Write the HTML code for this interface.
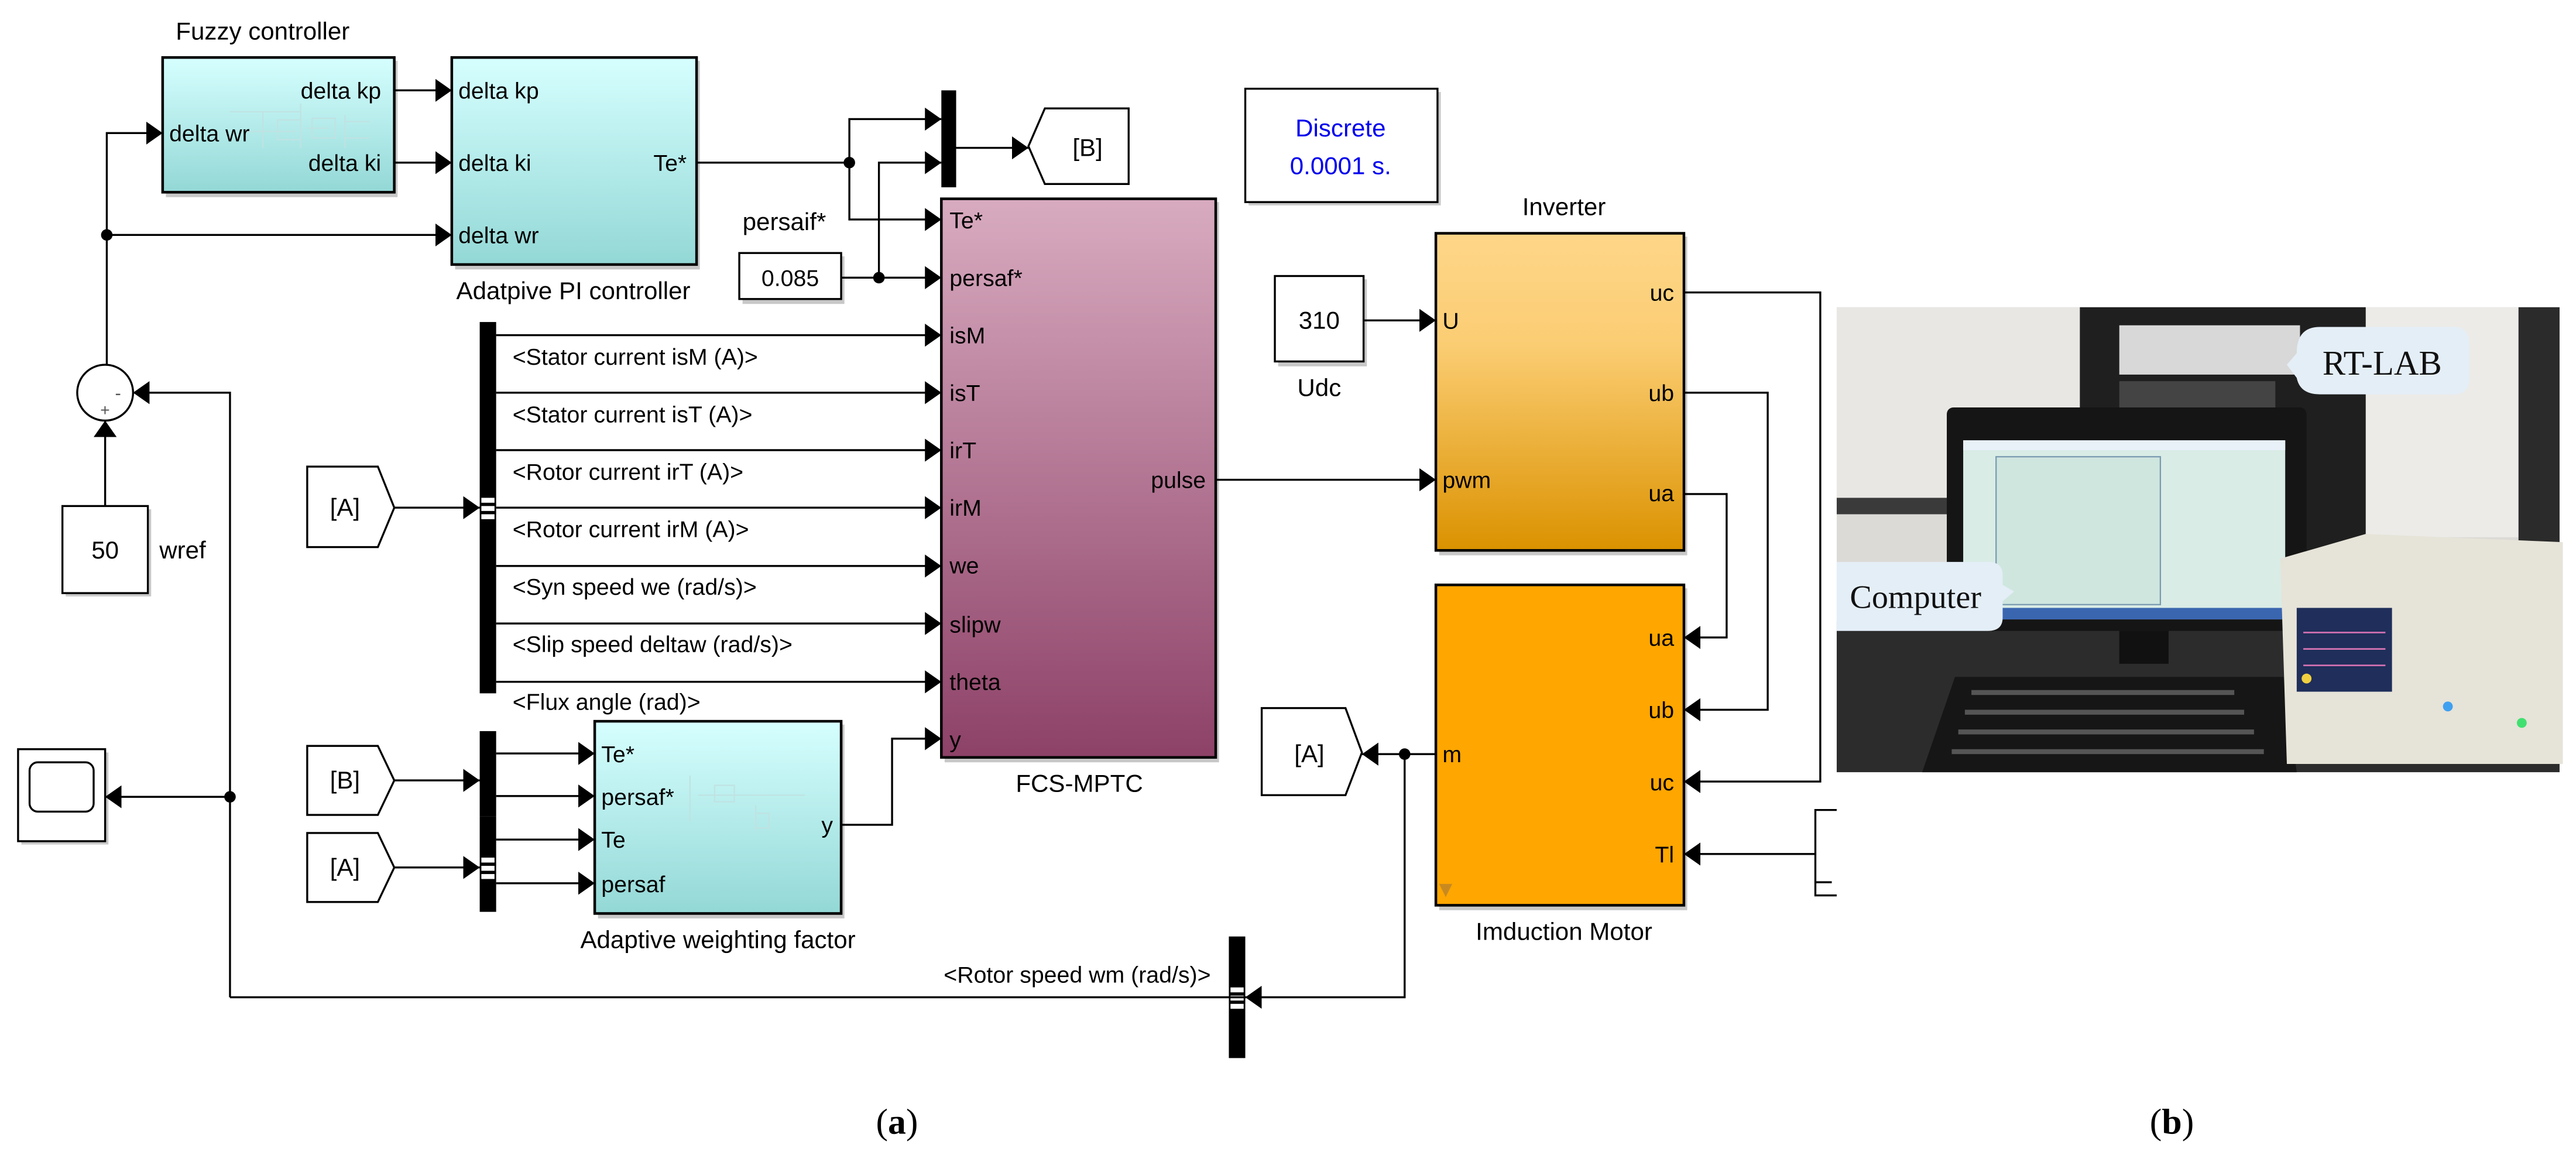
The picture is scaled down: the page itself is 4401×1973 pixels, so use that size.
<!DOCTYPE html>
<html><head><meta charset="utf-8"><style>html,body{margin:0;padding:0;background:#fff}svg{display:block}</style></head>
<body>
<svg width="4401" height="1973" viewBox="0 0 1568 703" preserveAspectRatio="none" xmlns="http://www.w3.org/2000/svg" font-family="Liberation Sans, sans-serif" font-size="14">
<defs>
<linearGradient id="cy" x1="0" y1="0" x2="0" y2="1"><stop offset="0" stop-color="#d6ffff"/><stop offset="1" stop-color="#93d8d6"/></linearGradient>
<linearGradient id="pk" x1="0" y1="0" x2="0" y2="1"><stop offset="0" stop-color="#d8abc0"/><stop offset="1" stop-color="#8d4167"/></linearGradient>
<linearGradient id="og" x1="0" y1="0" x2="0" y2="1"><stop offset="0" stop-color="#fed689"/><stop offset="0.35" stop-color="#fbcd73"/><stop offset="1" stop-color="#db9200"/></linearGradient>
<marker id="a" markerWidth="12" markerHeight="14" refX="10" refY="7" orient="auto" markerUnits="userSpaceOnUse"><path d="M0,0 L10,7 L0,14 Z" fill="#000"/></marker>
</defs>
<g fill="none" stroke="#000" stroke-width="1.2">
<g fill="#c8c8c8" stroke="none">
<rect x="101" y="37" width="141" height="83"/><rect x="277" y="37" width="149" height="127"/>
<rect x="575" y="123" width="167" height="341"/><rect x="364" y="441" width="150" height="118"/>
<rect x="876" y="144" width="151" height="194"/><rect x="876" y="358" width="151" height="196"/>
<rect x="452" y="156" width="62" height="29"/><rect x="760" y="56" width="117" height="69"/>
<rect x="778" y="170" width="54" height="53"/><rect x="40" y="310" width="52" height="53"/><rect x="13" y="458" width="53" height="56"/>
</g>
<rect x="99" y="35" width="141" height="82" fill="url(#cy)" stroke-width="1.6"/>
<rect x="275" y="35" width="149" height="126" fill="url(#cy)" stroke-width="1.6"/>
<rect x="573" y="121" width="167" height="340" fill="url(#pk)" stroke-width="1.6"/>
<rect x="362" y="439" width="150" height="117" fill="url(#cy)" stroke-width="1.6"/>
<rect x="874" y="142" width="151" height="193" fill="url(#og)" stroke-width="1.6"/>
<rect x="874" y="356" width="151" height="195" fill="#ffa600" stroke-width="1.6"/>
<rect x="450" y="154" width="62" height="28" fill="#fff"/>
<rect x="758" y="54" width="117" height="69" fill="#fff"/>
<rect x="776" y="168" width="54" height="52" fill="#fff"/>
<rect x="38" y="308" width="52" height="53" fill="#fff"/>
<rect x="11" y="456" width="53" height="56" fill="#fff"/>
<rect x="18" y="464" width="39" height="30" rx="5" fill="#fff"/>
<circle cx="64" cy="239" r="17" fill="#fff"/>
<path d="M187,284 L230,284 L240,309 L230,333 L187,333 Z" fill="#fff"/>
<path d="M187,454 L230,454 L240,475 L230,496 L187,496 Z" fill="#fff"/>
<path d="M187,507 L230,507 L240,528 L230,549 L187,549 Z" fill="#fff"/>
<path d="M687,66 L636,66 L626,89 L636,112 L687,112 Z" fill="#fff"/>
<path d="M768,431 L819,431 L829,458 L819,484 L768,484 Z" fill="#fff"/>
<path d="M1118,493 L1105,493 L1105,545 L1118,545 M1105,537 L1115,537"/>
<g fill="#000" stroke="none">
<rect x="292" y="196" width="10" height="226"/><rect x="292" y="445" width="10" height="52"/><rect x="292" y="497" width="10" height="58"/>
<rect x="573" y="55" width="9" height="59"/><rect x="748" y="570" width="10" height="74"/>
</g>
<g fill="#fff" stroke="none"><rect x="293" y="303" width="8" height="3"/><rect x="293" y="308" width="8" height="3"/><rect x="293" y="313" width="8" height="3"/>
<rect x="293" y="522" width="8" height="3"/><rect x="293" y="527" width="8" height="3"/><rect x="293" y="532" width="8" height="3"/>
<rect x="749" y="601" width="8" height="3"/><rect x="749" y="606" width="8" height="3"/><rect x="749" y="611" width="8" height="3"/></g>
<path d="M240,55 H275" marker-end="url(#a)"/>
<path d="M240,99 H275" marker-end="url(#a)"/>
<path d="M65,222 V81 H99" marker-end="url(#a)"/>
<path d="M65,143 H275" marker-end="url(#a)"/>
<path d="M64,308 V256" marker-end="url(#a)"/>
<path d="M140,607 V239 H81" marker-end="url(#a)"/>
<path d="M140,485 H64" marker-end="url(#a)"/>
<path d="M758,607 H140"/>
<path d="M874,459 H855 V607 H758" marker-end="url(#a)"/>
<path d="M855,459 H829" marker-end="url(#a)"/>
<path d="M424,99 H517 V72.5 H573" marker-end="url(#a)"/>
<path d="M517,99 V133.6 H573" marker-end="url(#a)"/>
<path d="M512,169 H573" marker-end="url(#a)"/>
<path d="M535,169 V99 H573" marker-end="url(#a)"/>
<path d="M582,90 H626" marker-end="url(#a)"/>
<path d="M240,309 H292" marker-end="url(#a)"/>
<path d="M302,204 H573" marker-end="url(#a)"/>
<path d="M302,239 H573" marker-end="url(#a)"/>
<path d="M302,274 H573" marker-end="url(#a)"/>
<path d="M302,309 H573" marker-end="url(#a)"/>
<path d="M302,344.5 H573" marker-end="url(#a)"/>
<path d="M302,379.5 H573" marker-end="url(#a)"/>
<path d="M302,415 H573" marker-end="url(#a)"/>
<path d="M240,475 H292" marker-end="url(#a)"/>
<path d="M240,528 H292" marker-end="url(#a)"/>
<path d="M302,458.6 H362" marker-end="url(#a)"/>
<path d="M302,484.5 H362" marker-end="url(#a)"/>
<path d="M302,511 H362" marker-end="url(#a)"/>
<path d="M302,537.6 H362" marker-end="url(#a)"/>
<path d="M512,502 H543 V449.6 H573" marker-end="url(#a)"/>
<path d="M740,292 H874" marker-end="url(#a)"/>
<path d="M830,195 H874" marker-end="url(#a)"/>
<path d="M1025,178 H1108 V475.7 H1025" marker-end="url(#a)"/>
<path d="M1025,239 H1076 V432 H1025" marker-end="url(#a)"/>
<path d="M1025,300.7 H1051 V388 H1025" marker-end="url(#a)"/>
<path d="M1105,519.8 H1025" marker-end="url(#a)"/>
</g>
<g fill="#000"><circle cx="65" cy="143" r="3.5"/><circle cx="140" cy="485" r="3.5"/><circle cx="855" cy="459" r="3.5"/><circle cx="517" cy="99" r="3.5"/><circle cx="535" cy="169" r="3.5"/></g>
<g stroke="#c0e2e2" fill="none" stroke-width="0.8">
<path d="M140,68 H183 M160,68 V90 M148,80 H180 M183,63 V90 M187,78 H200 M210,70 V90 M210,74 H225 M210,84 H225"/><rect x="169" y="73" width="14" height="12"/><rect x="190" y="72" width="14" height="12"/>
<path d="M420,472 V500 M425,484 H470 M470,484 H490 M460,490 V505"/><rect x="435" y="478" width="12" height="10"/><rect x="460" y="495" width="8" height="9"/>
</g>
<g fill="#000">
<text x="107" y="24" font-size="15">Fuzzy controller</text>
<text x="232" y="60" text-anchor="end">delta kp</text>
<text x="232" y="104" text-anchor="end">delta ki</text>
<text x="103" y="86">delta wr</text>
<text x="279" y="60">delta kp</text>
<text x="279" y="104">delta ki</text>
<text x="279" y="148">delta wr</text>
<text x="418" y="104" text-anchor="end">Te*</text>
<text x="349" y="182" text-anchor="middle" font-size="15">Adatpive PI controller</text>
<text x="452" y="140" font-size="15">persaif*</text>
<text x="481" y="174" text-anchor="middle">0.085</text>
<text x="578" y="139">Te*</text>
<text x="578" y="174">persaf*</text>
<text x="578" y="209">isM</text><text x="578" y="244">isT</text><text x="578" y="279">irT</text><text x="578" y="314">irM</text>
<text x="578" y="349">we</text><text x="578" y="385">slipw</text><text x="578" y="420">theta</text><text x="578" y="455">y</text>
<text x="734" y="297" text-anchor="end">pulse</text>
<text x="657" y="482" text-anchor="middle" font-size="15">FCS-MPTC</text>
<text x="312" y="222">&lt;Stator current isM (A)&gt;</text>
<text x="312" y="257">&lt;Stator current isT (A)&gt;</text>
<text x="312" y="292">&lt;Rotor current irT (A)&gt;</text>
<text x="312" y="327">&lt;Rotor current  irM (A)&gt;</text>
<text x="312" y="362">&lt;Syn speed we (rad/s)&gt;</text>
<text x="312" y="397">&lt;Slip speed deltaw (rad/s)&gt;</text>
<text x="312" y="432">&lt;Flux angle (rad)&gt;</text>
<text x="210" y="314" text-anchor="middle" font-size="15">[A]</text>
<text x="210" y="480" text-anchor="middle" font-size="15">[B]</text>
<text x="210" y="533" text-anchor="middle" font-size="15">[A]</text>
<text x="662" y="95" text-anchor="middle" font-size="15">[B]</text>
<text x="797" y="464" text-anchor="middle" font-size="15">[A]</text>
<text x="366" y="464">Te*</text><text x="366" y="490">persaf*</text><text x="366" y="516">Te</text><text x="366" y="543">persaf</text>
<text x="507" y="507" text-anchor="end">y</text>
<text x="437" y="577" text-anchor="middle" font-size="15">Adaptive weighting factor</text>
<text x="737" y="598" text-anchor="end">&lt;Rotor speed wm (rad/s)&gt;</text>
<text x="64" y="340" text-anchor="middle" font-size="15">50</text>
<text x="97" y="340" font-size="15">wref</text>
<text x="70" y="243" font-size="11" fill="#555">-</text><text x="61" y="253" font-size="10" fill="#555">+</text>
<text x="816" y="83" text-anchor="middle" font-size="15" fill="#0000ee">Discrete</text>
<text x="816" y="106" text-anchor="middle" font-size="15" fill="#0000ee">0.0001 s.</text>
<text x="952" y="131" text-anchor="middle" font-size="15">Inverter</text>
<text x="803" y="200" text-anchor="middle" font-size="15">310</text>
<text x="803" y="241" text-anchor="middle" font-size="15">Udc</text>
<text x="878" y="200">U</text><text x="878" y="297">pwm</text>
<text x="1019" y="183" text-anchor="end">uc</text><text x="1019" y="244" text-anchor="end">ub</text><text x="1019" y="305" text-anchor="end">ua</text>
<text x="1019" y="393" text-anchor="end">ua</text><text x="1019" y="437" text-anchor="end">ub</text><text x="1019" y="481" text-anchor="end">uc</text><text x="1019" y="525" text-anchor="end">Tl</text>
<text x="878" y="464">m</text>
<text x="952" y="572" text-anchor="middle" font-size="15">Imduction Motor</text>
<text x="546" y="690" text-anchor="middle" font-size="22" font-family="Liberation Serif, serif">(<tspan font-weight="bold">a</tspan>)</text>
<text x="1322" y="690" text-anchor="middle" font-size="22" font-family="Liberation Serif, serif">(<tspan font-weight="bold">b</tspan>)</text>
</g>
<path d="M876,538 L880,546 L884,538 Z" fill="#c88a20"/>
<g>
<rect x="1118" y="187" width="440" height="283" fill="#dcdad6"/>
<rect x="1118" y="187" width="150" height="120" fill="#e9e7e3"/>
<rect x="1118" y="303" width="150" height="10" fill="#3a3a3a"/>
<rect x="1440" y="187" width="118" height="140" fill="#ecebe8"/>
<rect x="1266" y="187" width="174" height="150" fill="#1f1f1f"/>
<rect x="1290" y="198" width="110" height="30" fill="#d8d8d8"/>
<rect x="1290" y="232" width="95" height="20" fill="#444"/>
<rect x="1533" y="187" width="25" height="170" fill="#2b2b2b"/>
<rect x="1118" y="378" width="440" height="92" fill="#2c2c2c"/>
<rect x="1185" y="248" width="219" height="136" rx="4" fill="#151515"/>
<rect x="1195" y="268" width="196" height="109" fill="#d9ece6"/>
<rect x="1195" y="268" width="196" height="6" fill="#e8f0f8"/>
<rect x="1215" y="278" width="100" height="90" fill="#cfe6df" stroke="#7a9ab0" stroke-width="0.8"/>
<rect x="1195" y="370" width="196" height="7" fill="#3a66b0"/>
<rect x="1290" y="384" width="30" height="20" fill="#111"/>
<path d="M1190,412 L1390,412 L1398,470 L1170,470 Z" fill="#161616"/>
<g fill="#555"><rect x="1200" y="420" width="160" height="3"/><rect x="1196" y="432" width="170" height="3"/><rect x="1192" y="444" width="180" height="3"/><rect x="1188" y="456" width="190" height="3"/></g>
<path d="M1388,340 L1440,325 L1560,330 L1560,465 L1392,465 Z" fill="#e6e3d8"/>
<rect x="1398" y="370" width="58" height="51" fill="#1f2e5a"/>
<path d="M1402,385 H1452 M1402,395 H1452 M1402,405 H1452" stroke="#d070b0" stroke-width="1"/>
<circle cx="1404" cy="413" r="3" fill="#f0d040"/><circle cx="1490" cy="430" r="3" fill="#40a0f0"/><circle cx="1535" cy="440" r="3" fill="#40e070"/>
<path d="M1398,215 Q1398,199 1412,199 L1494,199 Q1503,199 1503,210 L1503,230 Q1503,240 1494,240 L1412,240 Q1400,240 1398,230 L1392,222 Z" fill="#e4eef7"/>
<text x="1450" y="228" text-anchor="middle" font-size="21" font-family="Liberation Serif, serif" fill="#111">RT-LAB</text>
<path d="M1118,342 L1210,342 Q1219,342 1219,350 L1219,356 L1226,360 L1219,366 L1219,376 Q1219,384 1210,384 L1118,384 Z" fill="#e4eef7"/>
<text x="1166" y="370" text-anchor="middle" font-size="20" font-family="Liberation Serif, serif" fill="#111">Computer</text>
</g>
</svg>
</body></html>
